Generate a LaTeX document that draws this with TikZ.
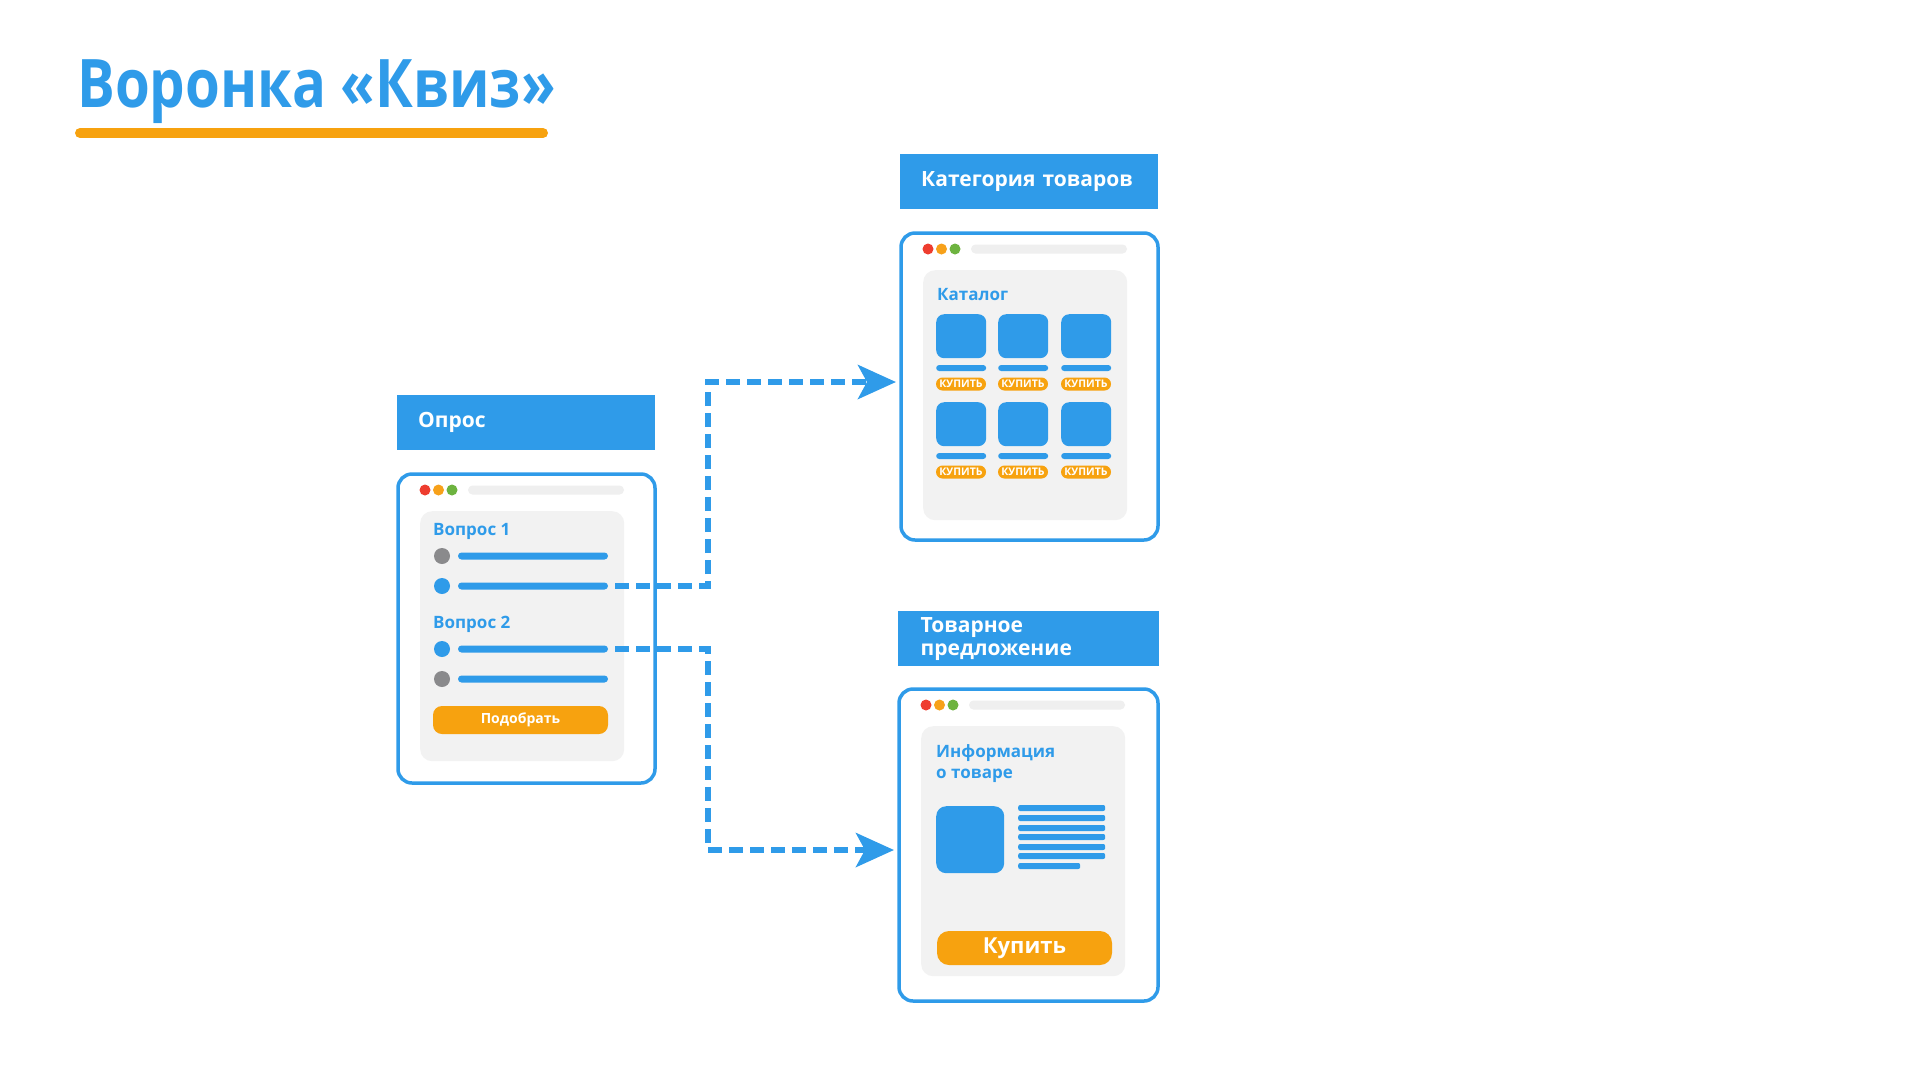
\documentclass[tikz,border=0pt]{standalone}
\usepackage{fontspec}
\setmainfont{Open Sans}
\newfontfamily\titlefont{Open Sans}[FakeStretch=0.84]
\usetikzlibrary{arrows.meta,calc}
\definecolor{quizblue}{HTML}{2F9BE9}
\definecolor{quizorange}{HTML}{F7A20F}
\definecolor{panelgray}{HTML}{F2F2F2}
\definecolor{bargray}{HTML}{EFEFEF}
\definecolor{dotred}{HTML}{EE3D2F}
\definecolor{dotorange}{HTML}{F7A11A}
\definecolor{dotgreen}{HTML}{6DB33F}
\definecolor{radiogray}{HTML}{8A8A8C}
\tikzset{
    header/.style={fill=quizblue,text=white,anchor=north west,minimum width=258pt,minimum height=55pt,
        text width=216pt,inner xsep=21pt,inner ysep=0pt,align=left,font=\bfseries\fontsize{21}{23}\selectfont},
    window/.style={draw=quizblue,line width=3.5pt,rounded corners=14pt,fill=white,anchor=north west,
        minimum width=257pt,minimum height=309pt,inner sep=0pt,outer sep=0pt},
    panel/.style={fill=panelgray,rounded corners=12pt,anchor=north west,minimum width=204pt,minimum height=250pt,inner sep=0pt},
    dot/.style={circle,inner sep=0pt,minimum size=11pt},
    addrbar/.style={fill=bargray,rounded corners=4.5pt,minimum width=156pt,minimum height=9pt,inner sep=0pt},
    paneltitle/.style={text=quizblue,anchor=base west,inner sep=0pt,align=left,font=\bfseries\fontsize{17}{21}\selectfont},
    radio/.style={circle,inner sep=0pt,minimum size=16pt},
    optbar/.style={fill=quizblue,rounded corners=3.5pt,minimum width=150pt,minimum height=7pt,inner sep=0pt},
    btn/.style={fill=quizorange,text=white,inner sep=0pt},
    tile/.style={fill=quizblue,rounded corners=8pt,minimum width=50pt,minimum height=44pt,inner sep=0pt,anchor=north west},
    textbar/.style={fill=quizblue,rounded corners=2pt,minimum height=6pt,inner sep=0pt,anchor=west},
    flow/.style={draw=quizblue,line width=6pt,dash pattern=on 14pt off 7pt,dash phase=14pt,
        -{Stealth[length=38pt,width=34pt,inset=9pt]},shorten >=5pt}
}
\begin{document}
\begin{tikzpicture}[x=1pt,y=-1pt]
\useasboundingbox (0,0) rectangle (1920,1080);
% title
\node[anchor=base west,inner sep=0pt,text=quizblue,font=\titlefont\bfseries\fontsize{67}{80}\selectfont] (title) at (77,107) {Воронка «Квиз»};
\draw[quizorange,line width=10pt,line cap=round] (80,133) -- (543,133);
% headers
\node[header] (hquiz) at (397,395) {Опрос};
\node[header] (hcat) at (900,154) {Категория товаров};
\node[header,minimum width=261pt] (hoffer) at (898,611) {Товарное\\предложение};
% windows
\node[window] (quizwin) at (398,474) {};
\node[window,minimum height=307pt] (catwin) at (901,233) {};
\node[window,minimum width=259pt,minimum height=312pt] (offerwin) at (899,689) {};
\foreach \w in {quizwin,catwin,offerwin}{
    \node[dot,fill=dotred] (\w-r) at ($(\w.north west)+(27,16)$) {};
    \node[dot,fill=dotorange] (\w-o) at ($(\w.north west)+(40.5,16)$) {};
    \node[dot,fill=dotgreen] (\w-g) at ($(\w.north west)+(54,16)$) {};
    \node[addrbar] (\w-bar) at ($(\w.north west)+(148,16)$) {};
    \node[panel] (\w-panel) at ($(\w.north west)+(22,37)$) {};
}
% quiz
\node[paneltitle] (q1) at (433,535) {Вопрос 1};
\node[paneltitle] (q2) at (433,628) {Вопрос 2};
\foreach \y/\c [count=\i] in {556/radiogray,586/quizblue,649/quizblue,679/radiogray}{
    \node[radio,fill=\c] (radio\i) at (442,\y) {};
    \node[optbar] (opt\i) at (533,\y) {};
}
\node[btn,rounded corners=9pt,minimum width=175pt,minimum height=28pt,font=\bfseries\fontsize{14}{16}\selectfont] (pick) at (520.5,720) {Подобрать};
% catalogue
\node[paneltitle] (cattitle) at (937,300) {Каталог};
\foreach \x in {936,998,1061}{
    \foreach \y in {314,402}{
        \node[tile] (tile-\x-\y) at (\x,\y) {};
        \node[textbar,minimum width=50pt,rounded corners=3pt] (name-\x-\y) at (\x,\y+54) {};
        \node[btn,rounded corners=6.5pt,minimum width=50pt,minimum height=13pt,font=\bfseries\fontsize{10.5}{11}\selectfont] (buy-\x-\y) at (\x+25,\y+70) {КУПИТЬ};
    }
}
% offer
\node[paneltitle] (info) at (936,778) {Информация\\о товаре};
\node[tile,minimum width=68pt,minimum height=67pt,rounded corners=10pt] (photo) at (936,806) {};
\foreach \y in {808,818,828,837,847,856}{
    \node[textbar,minimum width=87pt] (line\y) at (1018,\y) {};
}
\node[textbar,minimum width=62pt] (line866) at (1018,866) {};
\node[btn,rounded corners=12pt,minimum width=175pt,minimum height=34pt,font=\bfseries\fontsize{22}{24}\selectfont] (buy) at (1024.5,948) {Купить};
% connectors
\draw[flow] (opt2.east) -- ++(100,0) |- ([yshift=4.5pt]catwin.west);
\draw[flow] (opt3.east) -- ++(100,0) |- ([yshift=-5pt]offerwin.west);
\end{tikzpicture}
\end{document}
